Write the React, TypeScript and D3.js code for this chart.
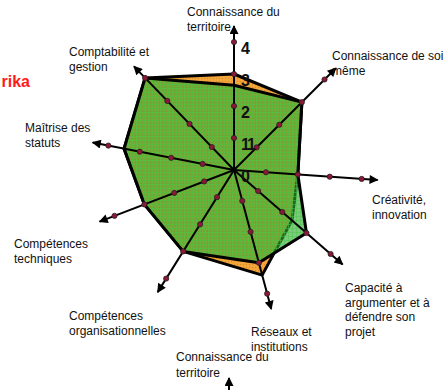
import React, { useEffect, useRef } from "react";
import * as d3 from "d3";

// axis labels, one entry per line
const categories = [
  ["Connaissance du", "territoire"],
  ["Connaissance de soi", "même"],
  ["Créativité,", "innovation"],
  ["Capacité à", "argumenter et à", "défendre son", "projet"],
  ["Réseaux et", "institutions"],
  ["Compétences", "organisationnelles"],
  ["Compétences", "techniques"],
  ["Maîtrise des", "statuts"],
  ["Comptabilité et", "gestion"],
];

const seriesOrange = [3, 3, 2, 2.4, 3.4, 3, 3, 3.5, 4];
const seriesGreen = [2.65, 3, 2, 3, 3, 3, 3, 3.5, 4];

const tickValues = [0, 1, 2, 3, 4];
const tickLabels = ["0", "11", "2", "3", "4"];

const titleText = "rika";
const nextChartLabel = ["Connaissance du", "territoire"];

// layout (the axes of the source picture are not evenly spread)
const axisAngles = [0, 45, 94, 131, 165, 212, 249, 281, 316];
const labelPos = [
  [187, 12],
  [332, 56],
  [372, 200],
  [345, 288],
  [251, 332],
  [69, 316],
  [14, 244],
  [25, 128],
  [69, 52],
];

const W = 448;
const H = 390;
const cx = 234;
const cy = 170;

const App = () => {
  const svgRef = useRef<SVGSVGElement>(null);

  useEffect(() => {
    const svg = d3.select(svgRef.current);
    svg.selectAll("*").remove();
    svg.attr("width", W).attr("height", H);

    const r = d3.scaleLinear().domain([0, 4]).range([0, 128]);
    const rad = (deg) => (deg * Math.PI) / 180;
    const pt = (i, v, ox = cx, oy = cy) => {
      const a = rad(axisAngles[i]);
      return [ox + r(v) * Math.sin(a), oy - r(v) * Math.cos(a)];
    };

    const defs = svg.append("defs");
    defs
      .append("marker")
      .attr("id", "arrow")
      .attr("viewBox", "0 0 10 10")
      .attr("refX", 9)
      .attr("refY", 5)
      .attr("markerWidth", 12)
      .attr("markerHeight", 9)
      .attr("markerUnits", "userSpaceOnUse")
      .attr("orient", "auto")
      .append("path")
      .attr("d", "M0,0L10,5L0,10z")
      .attr("fill", "#000");

    const pg = defs
      .append("pattern")
      .attr("id", "grid")
      .attr("width", 4)
      .attr("height", 4)
      .attr("patternUnits", "userSpaceOnUse");
    pg.append("path")
      .attr("d", "M0,0.5H4M0.5,0V4")
      .attr("stroke", "rgba(70,200,70,0.5)")
      .attr("stroke-width", 1);

    const po = defs
      .append("pattern")
      .attr("id", "dots")
      .attr("width", 3)
      .attr("height", 3)
      .attr("patternUnits", "userSpaceOnUse");
    po.append("rect").attr("width", 3).attr("height", 3).attr("fill", "#f2a53a");
    po.append("rect").attr("width", 1).attr("height", 1).attr("fill", "#d98a22");

    const line = d3.line().curve(d3.curveLinearClosed);

    // orange series (behind)
    svg
      .append("path")
      .attr("d", line(seriesOrange.map((v, i) => pt(i, v))))
      .attr("fill", "url(#dots)")
      .attr("stroke", "#000")
      .attr("stroke-width", 3)
      .attr("stroke-linejoin", "round");

    // green series (front, see-through)
    const greenD = line(seriesGreen.map((v, i) => pt(i, v)));
    svg
      .append("path")
      .attr("d", greenD)
      .attr("fill", "rgb(50,165,50)")
      .attr("fill-opacity", 0.62)
      .attr("stroke", "none");
    svg.append("path").attr("d", greenD).attr("fill", "url(#grid)");
    svg
      .append("path")
      .attr("d", greenD)
      .attr("fill", "none")
      .attr("stroke", "#000")
      .attr("stroke-width", 3)
      .attr("stroke-linejoin", "round");

    // axes
    axisAngles.forEach((a, i) => {
      const [x2, y2] = pt(i, 4.5);
      svg
        .append("line")
        .attr("x1", cx)
        .attr("y1", cy)
        .attr("x2", x2)
        .attr("y2", y2)
        .attr("stroke", "#000")
        .attr("stroke-width", 2)
        .attr("marker-end", "url(#arrow)");
    });

    // markers on the axes
    axisAngles.forEach((a, i) => {
      svg
        .selectAll(null)
        .data(tickValues.slice(1))
        .enter()
        .append("circle")
        .attr("cx", (v) => pt(i, v)[0])
        .attr("cy", (v) => pt(i, v)[1])
        .attr("r", 2.6)
        .attr("fill", "#8c1838")
        .attr("stroke", "#222")
        .attr("stroke-width", 0.8);
    });

    // value labels on the first axis
    svg
      .selectAll(".tick-label")
      .data(tickValues)
      .enter()
      .append("text")
      .attr("class", "tick-label")
      .attr("x", cx + 7)
      .attr("y", (v) => cy - r(v) + 6)
      .attr("dy", "0.35em")
      .attr("letter-spacing", (v, i) => (tickLabels[i].length > 1 ? -2 : 0))
      .style("font-family", "'Liberation Sans', Arial, sans-serif")
      .style("font-size", "16px")
      .style("font-weight", "bold")
      .style("fill", "#111")
      .text((v, i) => tickLabels[i]);

    // category labels
    const labelFont = (sel) =>
      sel
        .style("font-family", "'Liberation Sans', Arial, sans-serif")
        .style("font-size", "12px")
        .style("fill", "#111");

    categories.forEach((lines, i) => {
      const t = svg
        .append("text")
        .attr("x", labelPos[i][0])
        .attr("y", labelPos[i][1])
        .call(labelFont);
      lines.forEach((l, j) => {
        t.append("tspan")
          .attr("x", labelPos[i][0])
          .attr("y", labelPos[i][1] + j * 14.5)
          .attr("dy", "0.35em")
          .text(l);
      });
    });

    // top of the next chart, cut by the frame
    const nx = 229;
    const ny = 378 + r(4.5);
    const [tx, ty] = pt(0, 4.5, nx, ny);
    svg
      .append("line")
      .attr("x1", nx)
      .attr("y1", ny)
      .attr("x2", tx)
      .attr("y2", ty)
      .attr("stroke", "#000")
      .attr("stroke-width", 2)
      .attr("marker-end", "url(#arrow)");
    const nt = svg.append("text").call(labelFont);
    nextChartLabel.forEach((l, j) => {
      nt.append("tspan")
        .attr("x", 176)
        .attr("y", 357 + j * 15.5)
        .attr("dy", "0.35em")
        .text(l);
    });

    // title, cut at the left edge
    svg
      .append("text")
      .attr("x", 30)
      .attr("y", 81)
      .attr("dy", "0.35em")
      .attr("text-anchor", "end")
      .style("font-family", "'Liberation Sans', Arial, sans-serif")
      .style("font-size", "16px")
      .style("font-weight", "bold")
      .style("fill", "#ff1a1a")
      .text(titleText);
  }, []);

  return (
    <svg
      ref={svgRef}
      style={{ position: "absolute", left: 0, top: 0, background: "#fff" }}
    />
  );
};

export default App;
